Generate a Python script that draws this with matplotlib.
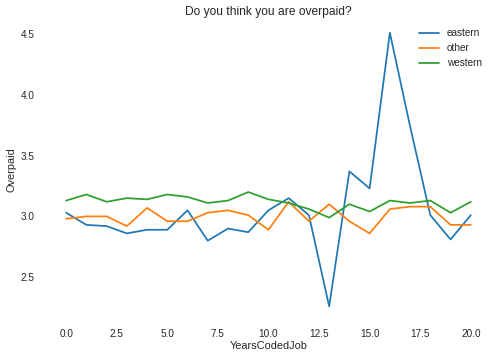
# line chart of overpaid answers by years coded
import numpy as np
import matplotlib
matplotlib.use('Agg')
import matplotlib.pyplot as plt
import seaborn as sns

years = np.arange(0, 21)
eastern = [3.03, 2.93, 2.92, 2.86, 2.89, 2.89, 3.05, 2.80, 2.90, 2.87, 3.05,
           3.15, 3.01, 2.26, 3.37, 3.23, 4.51, 3.74, 3.01, 2.81, 3.01]
other = [2.98, 3.00, 3.00, 2.92, 3.07, 2.96, 2.96, 3.03, 3.05, 3.01, 2.89,
         3.12, 2.96, 3.10, 2.96, 2.86, 3.06, 3.08, 3.08, 2.93, 2.93]
western = [3.13, 3.18, 3.12, 3.15, 3.14, 3.18, 3.16, 3.11, 3.13, 3.20, 3.14,
           3.11, 3.06, 2.99, 3.10, 3.04, 3.13, 3.11, 3.13, 3.03, 3.12]

sns.set_style('white')
plt.rcParams['font.family'] = ['Liberation Sans', 'DejaVu Sans']
fig = plt.figure(figsize=(499 / 72, 360 / 72), dpi=72)
ax = fig.add_axes([0.092, 0.111, 0.892, 0.836])

ax.plot(years, eastern, label='eastern', lw=1.75)
ax.plot(years, other, label='other', lw=1.75)
ax.plot(years, western, label='western', lw=1.75)

ax.set_yticks([2.5, 3.0, 3.5, 4.0, 4.5])
ax.tick_params(axis='x', pad=5)
ax.tick_params(axis='y', pad=8)
ax.set_xlabel('YearsCodedJob', fontsize=11, labelpad=2)
ax.set_ylabel('Overpaid', fontsize=11, labelpad=4)
ax.set_title('Do you think you are overpaid?', fontsize=12, pad=4)
ax.legend(frameon=False, loc='upper right')
sns.despine(left=True, bottom=True)

fig.savefig('out.png', dpi=72)
